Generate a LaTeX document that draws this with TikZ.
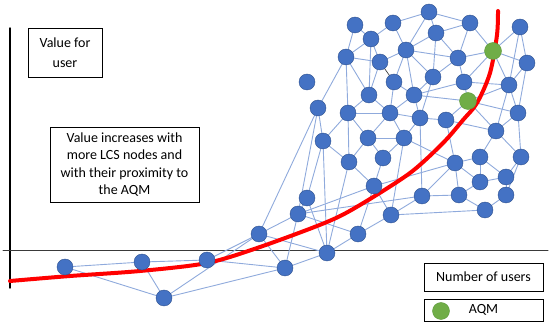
\documentclass[tikz,border=0pt]{standalone}
\usepackage{fontspec}
\setmainfont{Carlito}
\usepackage{tkz-euclide}
\usetikzlibrary{calc}
\definecolor{NodeClr}{HTML}{4472C4}
\definecolor{NodeEdgeClr}{HTML}{2F528F}
\definecolor{LinkClr}{HTML}{8FAADC}
\definecolor{AqmClr}{HTML}{70AD47}
\definecolor{AqmEdgeClr}{HTML}{5E9A3C}
\definecolor{AxisClr}{HTML}{3A3A3A}
\tikzset{txtbox/.style={draw=black,line width=0.8pt,inner sep=0pt,align=center,
  font=\fontsize{14}{17.6}\selectfont}}

\begin{document}
\begin{tikzpicture}[x=1pt,y=-1pt]
\useasboundingbox (0,0) rectangle (550,326);
\tkzSetUpLine[line width=0.9pt,color=LinkClr]
\tkzSetUpPoint[size=16,color=NodeEdgeClr,fill=NodeClr]

% axes
\tkzDefPoints{10/28/V1,10/288/V2,3/251/H1,548/251/H2}
\tkzDrawSegment[color=black,line width=1.4pt](V1,V2)
\tkzDrawSegment[color=AxisClr,line width=1pt](H1,H2)

% LCS nodes
\tkzDefPoints{355/25/a1,393/23/a2,429/12/a3,470/23/a4,520/27/a5,
  371/39/b1,436/33/b2,
  346/57/c1,380/62/c2,406/50/c3,458/58/c4,527/63/c5,
  307/82/d0,394/82/d1,433/77/d2,464/82/d3,509/85/d4,
  369/95/e1,414/95/e2,
  318/108/f1,348/113/f2,390/113/f3,420/118/f4,446/120/f5,518/113/f6,
  496/131/h1,
  323/141/i1,368/138/i2,404/138/i3,
  349/162/j1,383/158/j2,455/163/j3,480/157/j4,521/157/j5,
  480/182/k1,506/177/k2,
  374/186/l1,
  307/198/m1,422/196/m2,459/195/m3,506/195/m4,
  298/214/n1,391/215/n2,485/210/n3,
  358/234/o1,259/234/o2,
  327/253/p1,
  65/267/q1,142/262/q2,207/260/q3,285/268/q4,
  164/298/r1}
% AQM nodes
\tkzDefPoints{493/51/g1,468/101/g2}

% links
\tkzDrawSegments(a1,b1 a1,c1 a2,b1 a2,c3 a2,a3 a3,c3 a3,b2 a3,a4
  b1,c1 b1,c2 b1,e1 c1,c2 c2,c3 c3,b2 c3,c4 c3,d1 c3,d2 c3,e2
  c1,f1 c1,f2 c1,e1 c2,e1)
\tkzDrawSegments(a4,b2 a4,g1 a4,c4 a5,g1 a5,d4 a5,c5 g1,c4 g1,c5 g1,d4 g1,d3
  c5,d4 c5,f6 d3,d4 c4,d3 b2,c4 b2,d2 c4,d2 d3,g2 g2,d4 d2,e2 d2,f4 d3,e2
  e2,g2 d1,e2 d1,f3)
\tkzDrawSegments(e1,f2 e1,f3 e2,f3 e2,f4 f3,f4 f4,f5 f5,g2 g2,h1 g2,f6 d4,f6
  d4,h1 f6,h1 f2,f3 f2,i2 f2,i1 f3,i2 f3,i3 i2,i3 f2,j1 i1,j1 i2,j1 i2,j2
  i3,j2 f1,i1 f1,o2 f1,n1 i1,m1 i1,p1)
\tkzDrawSegments(f4,i3 f5,j3 f5,h1 f4,m2 h1,j4 h1,j5 f6,j5 j4,j3 j4,k1 j4,k2
  j5,k2 j3,k1 j3,m2 j3,m3 k1,m3 k2,m4 m4,n3 m3,n3 k1,k2 i3,j3 l1,j3 m2,m3
  m4,j5 n2,m2 n2,n3 n2,i3)
\tkzDrawSegments(j1,l1 j2,l1 j1,p1 l1,n1 l1,o1 l1,n2 o1,n2 o1,p1 n1,o1 n1,m2
  m1,n1 n1,q4 o2,n1 o2,q3 o2,q4 o2,p1 q4,p1 q3,q4 q1,q2 q2,q3 q1,r1 q2,r1
  r1,o2 r1,q4 m1,p1)
\tkzDrawSegment[color=darkgray,line width=0.7pt](c2,d1)

% value curve
\draw[red,line width=4pt,line cap=round] plot[smooth] coordinates {(10,281) (70,276)
  (140,271) (207,263) (260,247) (327,222) (360,205) (410,173) (443,143)
  (463,120) (477,103) (490,73) (497,35) (498,11)};

\tkzDrawPoints(a1,a2,a3,a4,a5,b1,b2,c1,c2,c3,c4,c5,d0,d1,d2,d3,d4,e1,e2)
\tkzDrawPoints(f1,f2,f3,f4,f5,f6,h1,i1,i2,i3,j1,j2,j3,j4,j5,k1,k2,l1)
\tkzDrawPoints(m1,m2,m3,m4,n1,n2,n3,o1,o2,p1,q1,q2,q3,q4,r1)
\tkzDrawPoints[size=17,color=AqmEdgeClr,fill=AqmClr](g1,g2)

% text boxes
\node[txtbox,minimum width=74pt,minimum height=49pt,
  font=\fontsize{14}{20}\selectfont] (ValUser) at (65,52.5) {Value for\\user};
\node[txtbox,minimum width=149pt,minimum height=75pt] (ValNote) at (124.5,164.5)
  {Value increases with\\more LCS nodes and\\with their proximity to\\the AQM};
\node[txtbox,minimum width=119pt,minimum height=28pt] (NbUsers) at (483.5,277)
  {Number of users};
\node[txtbox,minimum width=119pt,minimum height=22pt] (LegAqm) at (483.5,310)
  {AQM};
\tkzDefPoint(441,311){Lg}
\tkzDrawPoint[size=17,color=AqmEdgeClr,fill=AqmClr](Lg)

\end{tikzpicture}
\end{document}
